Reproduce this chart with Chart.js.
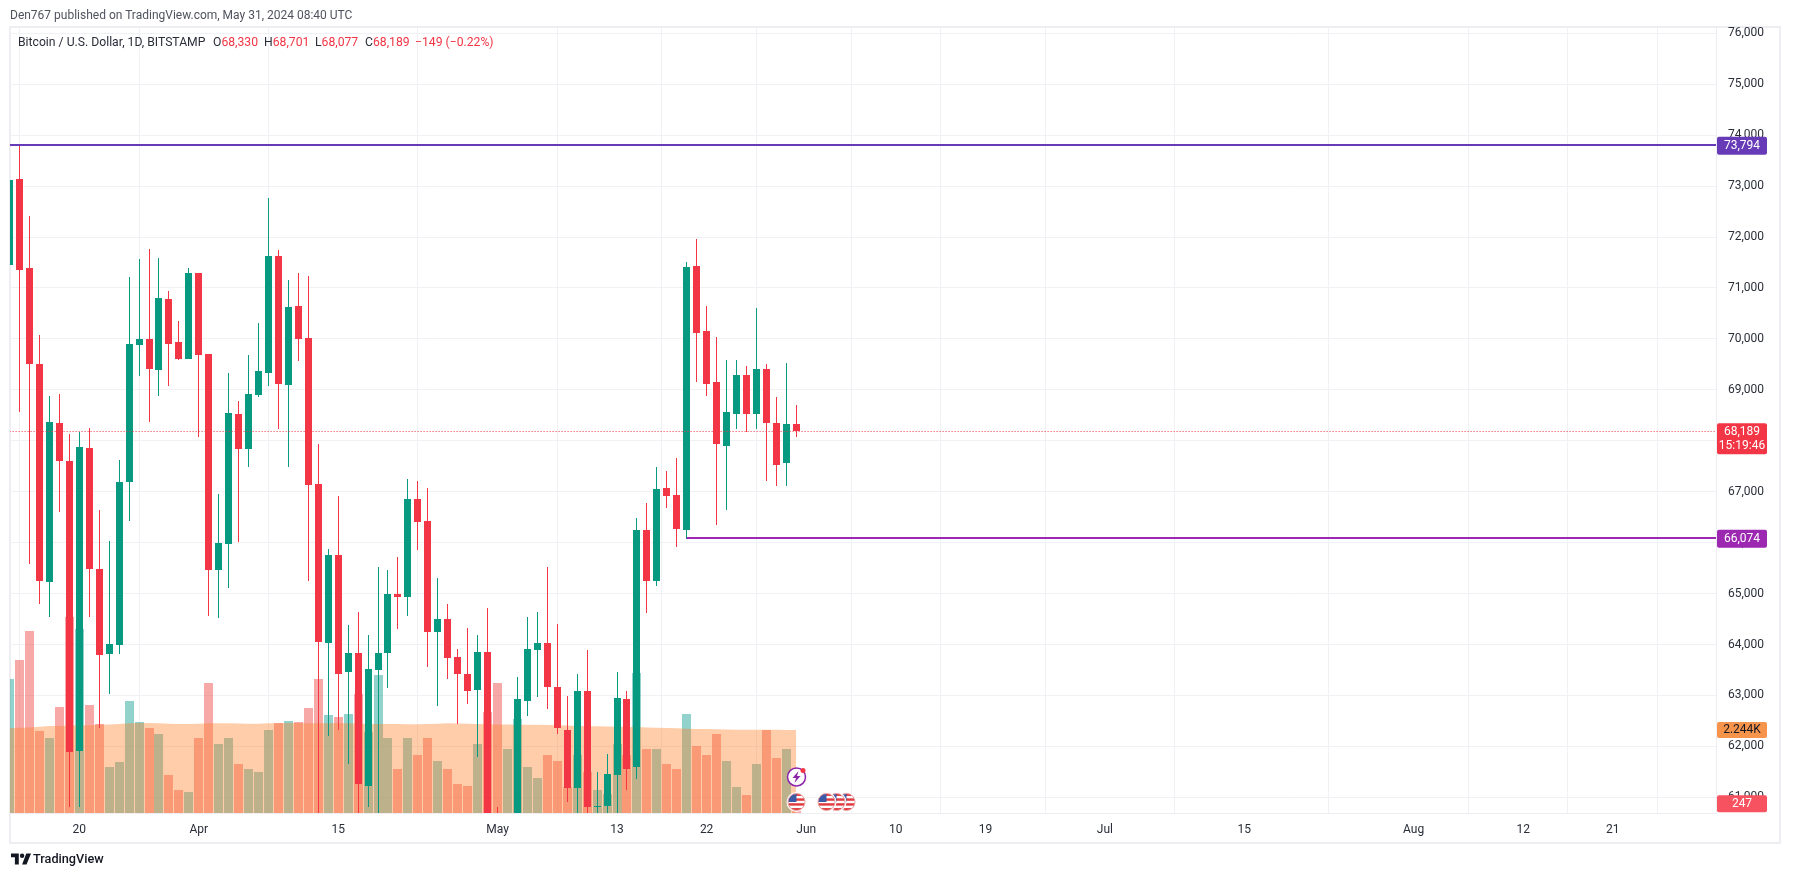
<!DOCTYPE html>
<html><head><meta charset="utf-8">
<script src="https://cdn.jsdelivr.net/npm/chart.js@4"></script>
<style>
html,body{margin:0;padding:0;background:#fff;overflow:hidden}
#wrap{position:relative;width:1794px;height:877px}
canvas{position:absolute;left:0;top:0}
.t{position:absolute;white-space:pre;font-family:Roboto,sans-serif;font-size:12.2px;line-height:16px;color:#2a2e39}
.r{color:#f23645}
</style></head><body>
<div id="wrap">
<canvas id="c" width="1794" height="877"></canvas>
<div class="t" style="left:10px;top:7px;color:#50535e;font-size:12px">Den767 published on TradingView.com, May 31, 2024 08:40 UTC</div>
<div class="t" style="left:18px;top:34px">Bitcoin / U.S. Dollar, 1D, BITSTAMP</div>
<div class="t" style="left:213px;top:34px">O<span class="r">68,330</span></div>
<div class="t" style="left:264px;top:34px">H<span class="r">68,701</span></div>
<div class="t" style="left:315px;top:34px">L<span class="r">68,077</span></div>
<div class="t" style="left:365px;top:34px">C<span class="r">68,189</span></div>
<div class="t r" style="left:415px;top:34px">−149 (−0.22%)</div>
<svg style="position:absolute;left:11px;top:853px" width="20" height="12" viewBox="0 0 36 20"><path fill="#131722" d="M14 20H7V7H0V0h14v20zM28 20h-8l7.5-20H36z"/><circle cx="20" cy="4" r="4" fill="#131722"/></svg>
<div class="t" style="left:33px;top:851px;font-size:12.7px;font-weight:500;color:#131722">TradingView</div>
</div>
<script>
const firstDay = -1;
const opens = [71452,73141,71393,69507,65226,68349,67603,61914,67858,65481,63811,63988,67190,69880,69998,69389,70784,69939,69605,71294,69703,65462,65972,68526,67838,68898,69331,71629,69095,70647,70018,67151,64028,65756,63458,63831,61220,63497,63831,64990,64931,66856,66424,64244,64499,63752,63419,63105,63851,60600,58200,59100,62888,63890,64028,63163,62330,61190,63085,60800,60820,61430,62928,61600,66248,65246,67073,66935,66248,71432,70156,69154,67898,68522,69286,68522,69400,68344,67556,68330];
const highs = [73650,73794,72414,70077,68878,68917,68133,68179,68244,66640,66031,67622,71216,71570,71766,71589,70941,70352,71393,71294,69703,66954,69330,68780,69684,70312,72770,71747,71157,71295,71236,67936,65874,66915,64381,64637,64185,65521,65462,65717,67249,67210,67073,65305,64794,63910,64322,64185,64715,60800,59400,63360,64538,64637,65521,64401,62996,63419,63890,61500,61850,63458,63085,66483,66778,67485,67406,67662,71511,71963,70647,70038,69590,69580,69467,70612,69512,68860,69534,68701];
const lows = [71330,68570,65586,64794,64538,66607,60800,60800,64538,62360,63025,63811,66431,69271,68369,68878,69075,69585,69605,68081,64558,64519,65108,66011,67485,68859,69075,68231,67485,69566,65246,60700,62200,62330,61650,60000,60800,60000,63144,64303,64558,65855,63556,62790,63321,62430,62829,61800,59100,56500,56900,58900,62594,62967,62731,62250,60900,60700,60150,60400,60600,60700,61150,61350,64617,65147,66680,65913,66074,69154,68879,66346,66640,68232,68163,68232,67220,67108,67108,68077];
const closes = [73121,71353,69507,65245,68369,67603,61894,67878,65481,63792,64008,67190,69900,69998,69409,70803,69900,69605,71294,69684,65462,65992,68546,67838,68917,69370,71629,69115,70627,69999,67131,64047,65756,63419,63831,61260,63517,63831,64990,64931,66856,66405,64244,64499,63733,63419,63085,63851,60600,58200,59100,62928,63910,64028,63163,62360,61190,63085,60800,60820,61450,62947,61550,66248,65246,67053,66915,66267,71413,70116,69115,67936,68566,69286,68522,69400,68344,67534,68338,68189];
const volumes = [3618,4131,4914,2214,2025,2862,5292,4968,2916,2403,1242,1377,3024,2457,2295,2133,1026,621,567,2025,3510,1863,2025,1323,1188,1107,2241,2430,2484,2457,2835,3618,2646,2592,2673,3213,2187,3726,2025,1188,2025,1566,2025,1404,1188,783,729,1863,2727,3510,1728,2538,1242,945,1566,1404,702,1566,1107,621,513,1863,1566,3780,1728,1728,1323,1188,2673,1809,1566,2133,1404,702,486,1323,2241,1485,1728,247];
const volumeMA = [2295,2300,2310,2330,2350,2350,2360,2370,2370,2380,2390,2400,2420,2430,2430,2420,2410,2400,2400,2410,2420,2420,2420,2415,2410,2410,2420,2425,2430,2430,2420,2420,2425,2430,2420,2410,2410,2405,2400,2400,2395,2395,2400,2410,2420,2415,2410,2400,2395,2390,2390,2385,2380,2380,2375,2370,2360,2350,2345,2340,2335,2330,2325,2320,2310,2300,2295,2285,2275,2270,2265,2260,2255,2250,2250,2248,2246,2245,2244,2244];
const tickDays = [6,18,32,48,60,69,79,88,97,109,123,140,151,160];
const tickLabels = ['20','Apr','15','May','13','22','Jun','10','19','Jul','15','Aug','12','21'];
const priceTicks = [61000,62000,63000,64000,65000,66000,67000,68000,69000,70000,71000,72000,73000,74000,75000,76000];
const levelHigh = 73794, levelLow = 66074, levelHighFrom = -1, levelLowFrom = 67, levelEnd = 171;
const lastPrice = 68189, lastVolume = 247, lastVolumeMA = 2244;
const countdown = '15:19:46';
const lightningDay = [78], flagDays = [78,81,82,83];

const GREEN='#089981', RED='#f23645';
const days = opens.map((_,i)=>firstDay+i);
const isUp = i => closes[i] >= opens[i];
const fmt = v => Math.round(v).toLocaleString('en-US');

const snap = {
  id:'snap',
  beforeDatasetsDraw(chart){
    chart.data.datasets.forEach((ds,di)=>{
      const meta = chart.getDatasetMeta(di);
      if(meta.type==='bar'){
        meta.data.forEach(el=>{
          el.x = Math.floor(el.x)+0.5;
          el.y = Math.round(el.y);
          el.base = Math.round(el.base);
        });
      } else if(ds.snapY){
        meta.data.forEach(p=>{ p.y = Math.floor(p.y)+(ds.borderWidth===1?0.5:0); });
      }
    });
  }
};
function tag(ctx,x,w,cy,h,bg,lines,color){
  ctx.fillStyle=bg;
  ctx.beginPath();ctx.roundRect(x,cy-h/2,w,h,2);ctx.fill();
  ctx.fillStyle=color;ctx.textAlign='center';ctx.textBaseline='middle';
  ctx.font='12px Roboto,sans-serif';
  lines.forEach(l=>ctx.fillText(l.t,x+w/2,l.y));
}
function flag(ctx,x,y,r){
  ctx.save();
  ctx.beginPath();ctx.arc(x,y,r+1.5,0,Math.PI*2);ctx.fillStyle='#fff';ctx.fill();
  ctx.beginPath();ctx.arc(x,y,r,0,Math.PI*2);ctx.clip();
  ctx.fillStyle='#fff';ctx.fillRect(x-r,y-r,2*r,2*r);
  ctx.fillStyle='#e0393e';
  for(let k=0;k<4;k++)ctx.fillRect(x-r,y-r+k*2*r/3.5,2*r,r/3.5);
  ctx.fillStyle='#3c5aa6';ctx.fillRect(x-r,y-r,r,r);
  ctx.restore();
  ctx.beginPath();ctx.arc(x,y,r,0,Math.PI*2);ctx.strokeStyle='#e9a0a0';ctx.lineWidth=1;ctx.stroke();
}
const overlay = {
  id:'overlay',
  beforeDraw(chart){
    const ctx=chart.ctx;
    ctx.save();
    ctx.strokeStyle='#eeeef2';ctx.lineWidth=2;
    ctx.strokeRect(10,27,1770,816);
    ctx.restore();
  },
  afterDraw(chart){
    const ctx=chart.ctx, y=chart.scales.y, v=chart.scales.yVol, x=chart.scales.x;
    ctx.save();
    const X=1717,W=50;
    const yH=y.getPixelForValue(levelHigh), yL=y.getPixelForValue(levelLow), yP=y.getPixelForValue(lastPrice);
    tag(ctx,X,W,yH,18,'#673ab7',[{t:fmt(levelHigh),y:yH+0.5}],'#fff');
    tag(ctx,X,W,yL,18,'#9c27b0',[{t:fmt(levelLow),y:yL+0.5}],'#fff');
    const pTop=yP-8;
    ctx.fillStyle=RED;ctx.beginPath();ctx.roundRect(X,pTop,W,31,2);ctx.fill();
    ctx.fillStyle='#fff';ctx.textAlign='center';ctx.textBaseline='middle';ctx.font='12px Roboto,sans-serif';
    ctx.fillText(fmt(lastPrice),X+W/2,yP+0.5);
    ctx.fillText(countdown,X+W/2,yP+14.5);
    const yM=v.getPixelForValue(lastVolumeMA), yV=v.getPixelForValue(lastVolume);
    tag(ctx,X,W,yM,16,'#f7944b',[{t:(lastVolumeMA/1000).toFixed(3)+'K',y:yM+0.5}],'#131722');
    tag(ctx,X,W,yV,17,'#f7525f',[{t:String(lastVolume),y:yV+0.5}],'#fff');
    lightningDay.forEach(d=>{
      const px=Math.floor(x.getPixelForValue(d))+0.5, py=777;
      ctx.beginPath();ctx.arc(px,py,9,0,Math.PI*2);ctx.fillStyle='#fff';ctx.fill();
      ctx.lineWidth=1.5;ctx.strokeStyle='#8e24aa';ctx.stroke();
      ctx.fillStyle='#8e24aa';ctx.beginPath();
      ctx.moveTo(px+2,py-6);ctx.lineTo(px-4,py+1);ctx.lineTo(px-0.5,py+1);ctx.lineTo(px-2,py+6);ctx.lineTo(px+4,py-1);ctx.lineTo(px+0.5,py-1);ctx.closePath();ctx.fill();
      ctx.beginPath();ctx.arc(px+6.5,py-6.5,2.5,0,Math.PI*2);ctx.fillStyle=RED;ctx.fill();
    });
    flagDays.slice().reverse().forEach(d=>flag(ctx,Math.floor(x.getPixelForValue(d))+0.5,802,8.5));
    ctx.restore();
  }
};
Chart.register(snap,overlay);
const pairs = (a,b)=>days.map((d,i)=>({x:d,y:[a[i],b[i]]}));
new Chart(document.getElementById('c'),{
  type:'bar',
  data:{datasets:[
    {label:'Volume',yAxisID:'yVol',grouped:false,order:10,barThickness:9,inflateAmount:0,
     data:days.map((d,i)=>({x:d,y:volumes[i]})),
     backgroundColor:days.map((_,i)=>isUp(i)?'rgba(38,166,154,0.5)':'rgba(239,83,80,0.5)')},
    {type:'line',label:'Volume MA',yAxisID:'yVol',order:9,pointRadius:0,borderWidth:0,tension:0,
     fill:'start',backgroundColor:'rgba(255,130,42,0.4)',
     data:days.map((d,i)=>({x:d,y:volumeMA[i]}))},
    {label:'Wick',yAxisID:'y',grouped:false,order:5,barThickness:1,inflateAmount:0,
     data:pairs(lows,highs),
     backgroundColor:days.map((_,i)=>isUp(i)?GREEN:RED)},
    {label:'Body',yAxisID:'y',grouped:false,order:4,barThickness:7,inflateAmount:0,
     data:pairs(opens,closes),
     backgroundColor:days.map((_,i)=>isUp(i)?GREEN:RED)},
    {type:'line',label:'Last',yAxisID:'y',order:3,snapY:true,pointRadius:0,borderWidth:1,borderColor:RED,borderDash:[1,2],
     data:[{x:levelHighFrom,y:lastPrice},{x:levelEnd,y:lastPrice}]},
    {type:'line',label:'Resistance',yAxisID:'y',order:2,snapY:true,pointRadius:0,borderWidth:2,borderColor:'#673ab7',
     data:[{x:levelHighFrom,y:levelHigh},{x:levelEnd,y:levelHigh}]},
    {type:'line',label:'Support',yAxisID:'y',order:2,snapY:true,pointRadius:0,borderWidth:2,borderColor:'#9c27b0',
     data:[{x:levelLowFrom,y:levelLow},{x:levelEnd,y:levelLow}]}
  ]},
  options:{
    responsive:false,animation:false,
    layout:{padding:{left:10,top:28,right:14,bottom:34}},
    plugins:{legend:{display:false},tooltip:{enabled:false},title:{display:false}},
    scales:{
      x:{type:'linear',min:-0.96,max:170.37,offset:false,
        afterBuildTicks(s){s.ticks=tickDays.map(v=>({value:v}));},
        afterFit(s){s.height=30;},
        grid:{color:'#f0f1f4',drawTicks:false},
        border:{display:true,color:'#eeeef2'},
        ticks:{autoSkip:false,maxRotation:0,padding:10,color:'#2a2e39',font:{family:'Roboto,sans-serif',size:12},
          callback(v){const i=tickDays.indexOf(v);return i<0?'':tickLabels[i];}}},
      y:{type:'linear',position:'right',min:60692,max:76104,
        afterBuildTicks(s){s.ticks=priceTicks.map(v=>({value:v}));},
        afterFit(s){s.width=64;},
        grid:{color:'#f0f1f4',drawTicks:false},
        border:{display:true,color:'#eeeef2'},
        ticks:{autoSkip:false,padding:12,color:'#2a2e39',font:{family:'Roboto,sans-serif',size:12},
          callback:v=>fmt(v)}},
      yVol:{type:'linear',display:false,min:0,max:21195}
    }
  }
});
</script>
</body></html>
